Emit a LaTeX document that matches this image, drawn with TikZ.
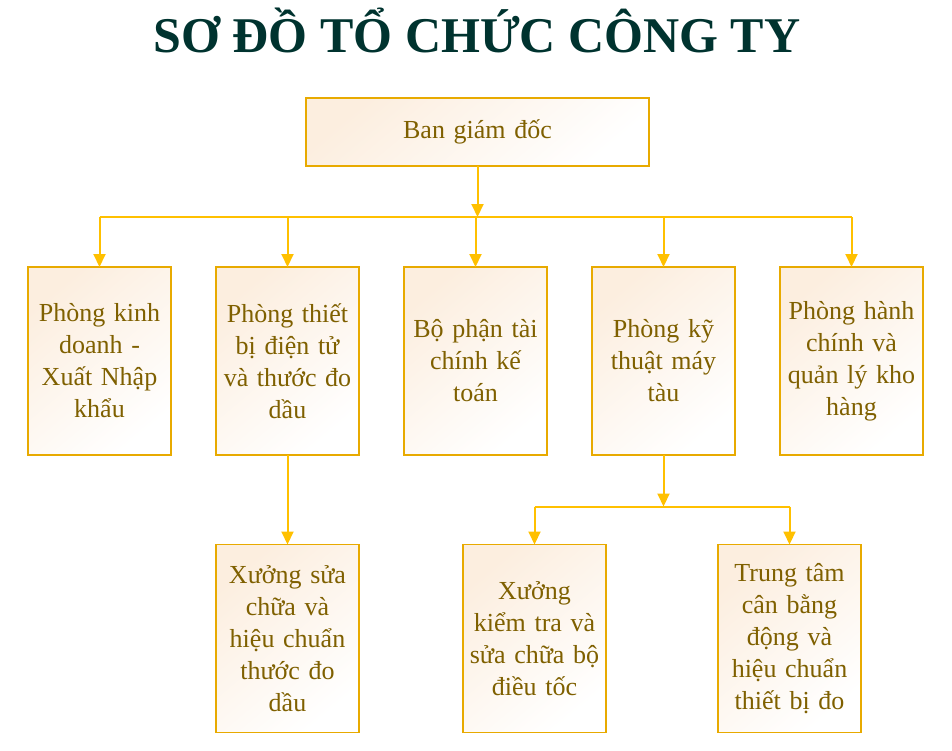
\documentclass[tikz,border=0pt]{standalone}
\usepackage{fontspec}
\setmainfont{Liberation Serif}
\usetikzlibrary{arrows.meta}
\definecolor{tieude}{HTML}{00332F}
\definecolor{chu}{HTML}{7F6000}
\definecolor{vien}{HTML}{E8AA00}
\definecolor{duong}{HTML}{FFC000}
\definecolor{dao}{HTML}{FCEEDF}
\tikzset{
  hop/.style={draw=vien,line width=1.3pt,top color=dao,middle color=white,bottom color=white,shading angle=40,
    text=chu,align=center,inner sep=0pt,outer sep=0pt,text width=136pt,
    minimum width=143pt,font=\fontsize{26}{32}\selectfont},
  hopcao/.style={hop,minimum height=188pt},
  noi/.style={draw=duong,line width=2pt},
  mui/.style={noi,-{Triangle[width=12pt,length=13pt]}}
}
\begin{document}
\begin{tikzpicture}[x=1pt,y=-1pt]
            \useasboundingbox (0,0) rectangle (952,750);
            \node[font=\fontsize{50}{50}\selectfont\bfseries,text=tieude,anchor=base] (tieude) at (477,52) {SƠ ĐỒ TỔ CHỨC CÔNG TY};
            \node[hop,minimum width=343pt,minimum height=68pt,text width=330pt] (bgd) at (477.5,132) {Ban giám đốc};
            \node[hopcao] (kd) at (99.5,361) {Phòng kinh\\doanh -\\Xuất Nhập\\khẩu};
            \node[hopcao] (tb) at (287.5,361) {Phòng thiết\\bị điện tử\\và thước đo\\dầu};
            \node[hopcao] (tc) at (475.5,361) {Bộ phận tài\\chính kế\\toán};
            \node[hopcao] (kt) at (663.5,361) {Phòng kỹ\\thuật máy\\tàu};
            \node[hopcao] (hc) at (851.5,361) {Phòng hành\\chính và\\quản lý kho\\hàng};
            \node[hopcao] (xs) at (287.5,638.5) {Xưởng sửa\\chữa và\\hiệu chuẩn\\thước đo\\dầu};
            \node[hopcao] (xk) at (534.5,638.5) {Xưởng\\kiểm tra và\\sửa chữa bộ\\điều tốc};
            \node[hopcao] (tt) at (789.5,638.5) {Trung tâm\\cân bằng\\động và\\hiệu chuẩn\\thiết bị đo};
            % nhanh tren
            \coordinate (re1) at (477.5,217);
            \draw[mui] (bgd) -- (re1);
            \draw[noi] (kd |- re1) -- (hc |- re1);
            \foreach \p in {kd,tb,tc,kt,hc} \draw[mui] (\p |- re1) -- (\p);
            % nhanh duoi
            \draw[mui] (tb) -- (xs);
            \coordinate (re2) at (663.5,506.5);
            \draw[mui] (kt) -- (re2);
            \draw[noi] (xk |- re2) -- (tt |- re2);
            \draw[mui] (xk |- re2) -- (xk);
            \draw[mui] (tt |- re2) -- (tt);
        \end{tikzpicture}
\end{document}
